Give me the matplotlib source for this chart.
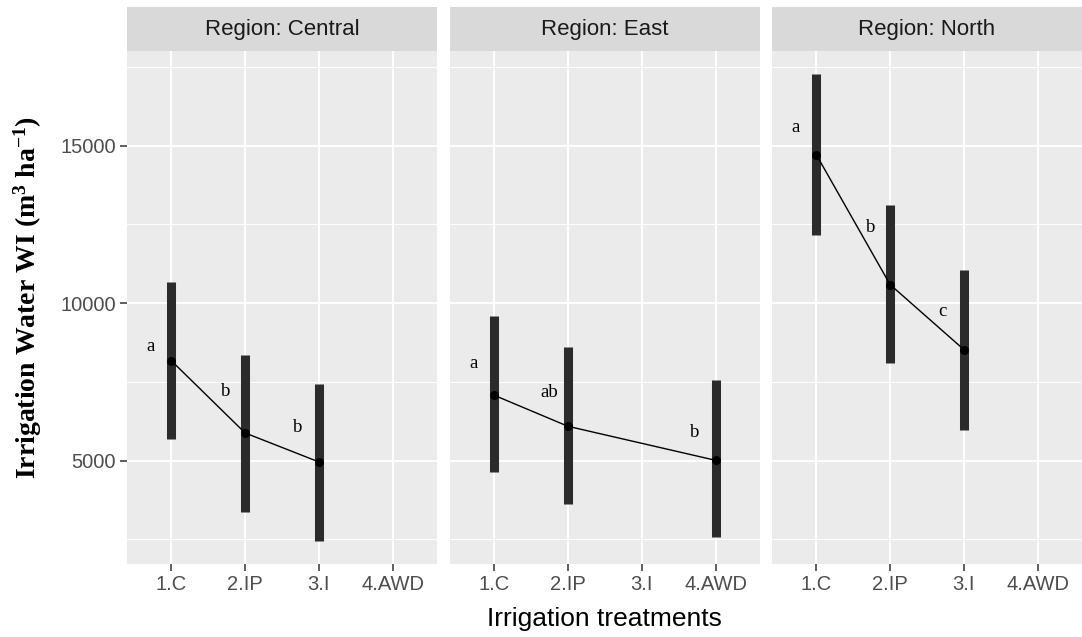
import numpy as np
import matplotlib
matplotlib.use("Agg")
import matplotlib.pyplot as plt
from matplotlib.ticker import FixedLocator

plt.rcParams["mathtext.fontset"] = "custom"
plt.rcParams["mathtext.rm"] = "Liberation Serif:bold"
plt.rcParams["mathtext.it"] = "Liberation Serif:bold"
plt.rcParams["mathtext.bf"] = "Liberation Serif:bold"

# ---- data -------------------------------------------------------------
treatments = ["1.C", "2.IP", "3.I", "4.AWD"]
regions = ["Central", "East", "North"]

central_treat = ["1.C", "2.IP", "3.I"]
central_mean = [8175, 5880, 4960]
central_low = [5700, 3380, 2460]
central_high = [10680, 8365, 7445]
central_letters = ["a", "b", "b"]
central_letter_y = [8620, 7190, 6050]

east_treat = ["1.C", "2.IP", "4.AWD"]
east_mean = [7075, 6090, 5010]
east_low = [4640, 3625, 2590]
east_high = [9605, 8600, 7550]
east_letters = ["a", "ab", "b"]
east_letter_y = [8080, 7160, 5890]

north_treat = ["1.C", "2.IP", "3.I"]
north_mean = [14715, 10590, 8525]
north_low = [12175, 8100, 5960]
north_high = [17265, 13125, 11065]
north_letters = ["a", "b", "c"]
north_letter_y = [15570, 12400, 9730]

letter_dx = [-0.28, -0.26, -0.29]

panels = {
    "Central": (central_treat, central_mean, central_low, central_high, central_letters, central_letter_y),
    "East": (east_treat, east_mean, east_low, east_high, east_letters, east_letter_y),
    "North": (north_treat, north_mean, north_low, north_high, north_letters, north_letter_y),
}

# ---- styling ----------------------------------------------------------
W, H = 1082, 637
fig = plt.figure(figsize=(W / 100, H / 100), dpi=100)
fig.patch.set_facecolor("white")

panel_bg = "#EBEBEB"
strip_bg = "#D9D9D9"
tick_col = "#4D4D4D"

panel_x = [(127, 437), (450, 760), (772, 1082)]
panel_top, panel_bot = 51, 564
strip_top = 7

all_vals = central_low + central_high + east_low + east_high + north_low + north_high
vmin, vmax = min(all_vals), max(all_vals)
pad = 0.05 * (vmax - vmin)
ylim = (vmin - pad, vmax + pad)

def px_axes(x0, x1, y0, y1):
    return [x0 / W, 1 - y1 / H, (x1 - x0) / W, (y1 - y0) / H]

for i, (reg, (x0, x1)) in enumerate(zip(regions, panel_x)):
    treat, mean, low, high, letters, ly = panels[reg]
    ax = fig.add_axes(px_axes(x0, x1, panel_top, panel_bot))
    ax.set_facecolor(panel_bg)
    for s in ax.spines.values():
        s.set_visible(False)
    ax.set_xlim(0.4, 4.6)
    ax.set_ylim(*ylim)

    ax.xaxis.set_major_locator(FixedLocator([1, 2, 3, 4]))
    ax.set_xticklabels(treatments)
    ax.yaxis.set_major_locator(FixedLocator([5000, 10000, 15000]))
    ax.yaxis.set_minor_locator(FixedLocator([2500, 7500, 12500, 17500]))
    ax.grid(which="major", color="white", linewidth=1.4)
    ax.grid(which="minor", axis="y", color="white", linewidth=0.7)
    ax.set_axisbelow(True)
    ax.tick_params(axis="both", which="major", length=5, width=1.1, color="#333333",
                   labelsize=14.5, labelcolor=tick_col, pad=3)
    ax.tick_params(axis="both", which="minor", length=0)
    for lab in ax.get_xticklabels() + ax.get_yticklabels():
        lab.set_fontfamily("Liberation Sans")
    if i == 0:
        ax.set_yticklabels(["5000", "10000", "15000"])
    else:
        ax.tick_params(axis="y", which="both", left=False, labelleft=False)

    xs = [treatments.index(t) + 1 for t in treat]
    ax.vlines(xs, low, high, colors="#2B2B2B", linewidth=6.5, zorder=3)
    ax.plot(xs, mean, color="black", linewidth=1.0, zorder=4)
    ax.scatter(xs, mean, s=42, color="black", zorder=5, linewidths=0)
    for x, lt, yv, dx in zip(xs, letters, ly, letter_dx):
        ax.text(x + dx, yv, lt, ha="center", va="center", fontsize=13.5,
                fontfamily="Liberation Serif", color="black", zorder=6)

    # facet strip
    sax = fig.add_axes(px_axes(x0, x1, strip_top, panel_top))
    sax.set_facecolor(strip_bg)
    sax.set_xticks([])
    sax.set_yticks([])
    for s in sax.spines.values():
        s.set_visible(False)
    sax.text(0.5, 0.5, f"Region: {reg}", ha="center", va="center", fontsize=16,
             fontfamily="Liberation Sans", color="#1A1A1A", transform=sax.transAxes)

fig.text((127 + 1082) / 2 / W, 1 - 619 / H, "Irrigation treatments", ha="center", va="center",
         fontsize=19, fontfamily="Liberation Sans", color="black")
fig.text(28 / W, 1 - 298 / H, r"Irrigation Water WI (m$^{3}$ ha$^{-1}$)", rotation=90,
         ha="center", va="center", fontsize=20, fontfamily="Liberation Serif",
         fontweight="bold", color="black")

fig.savefig("out.png", dpi=100)
